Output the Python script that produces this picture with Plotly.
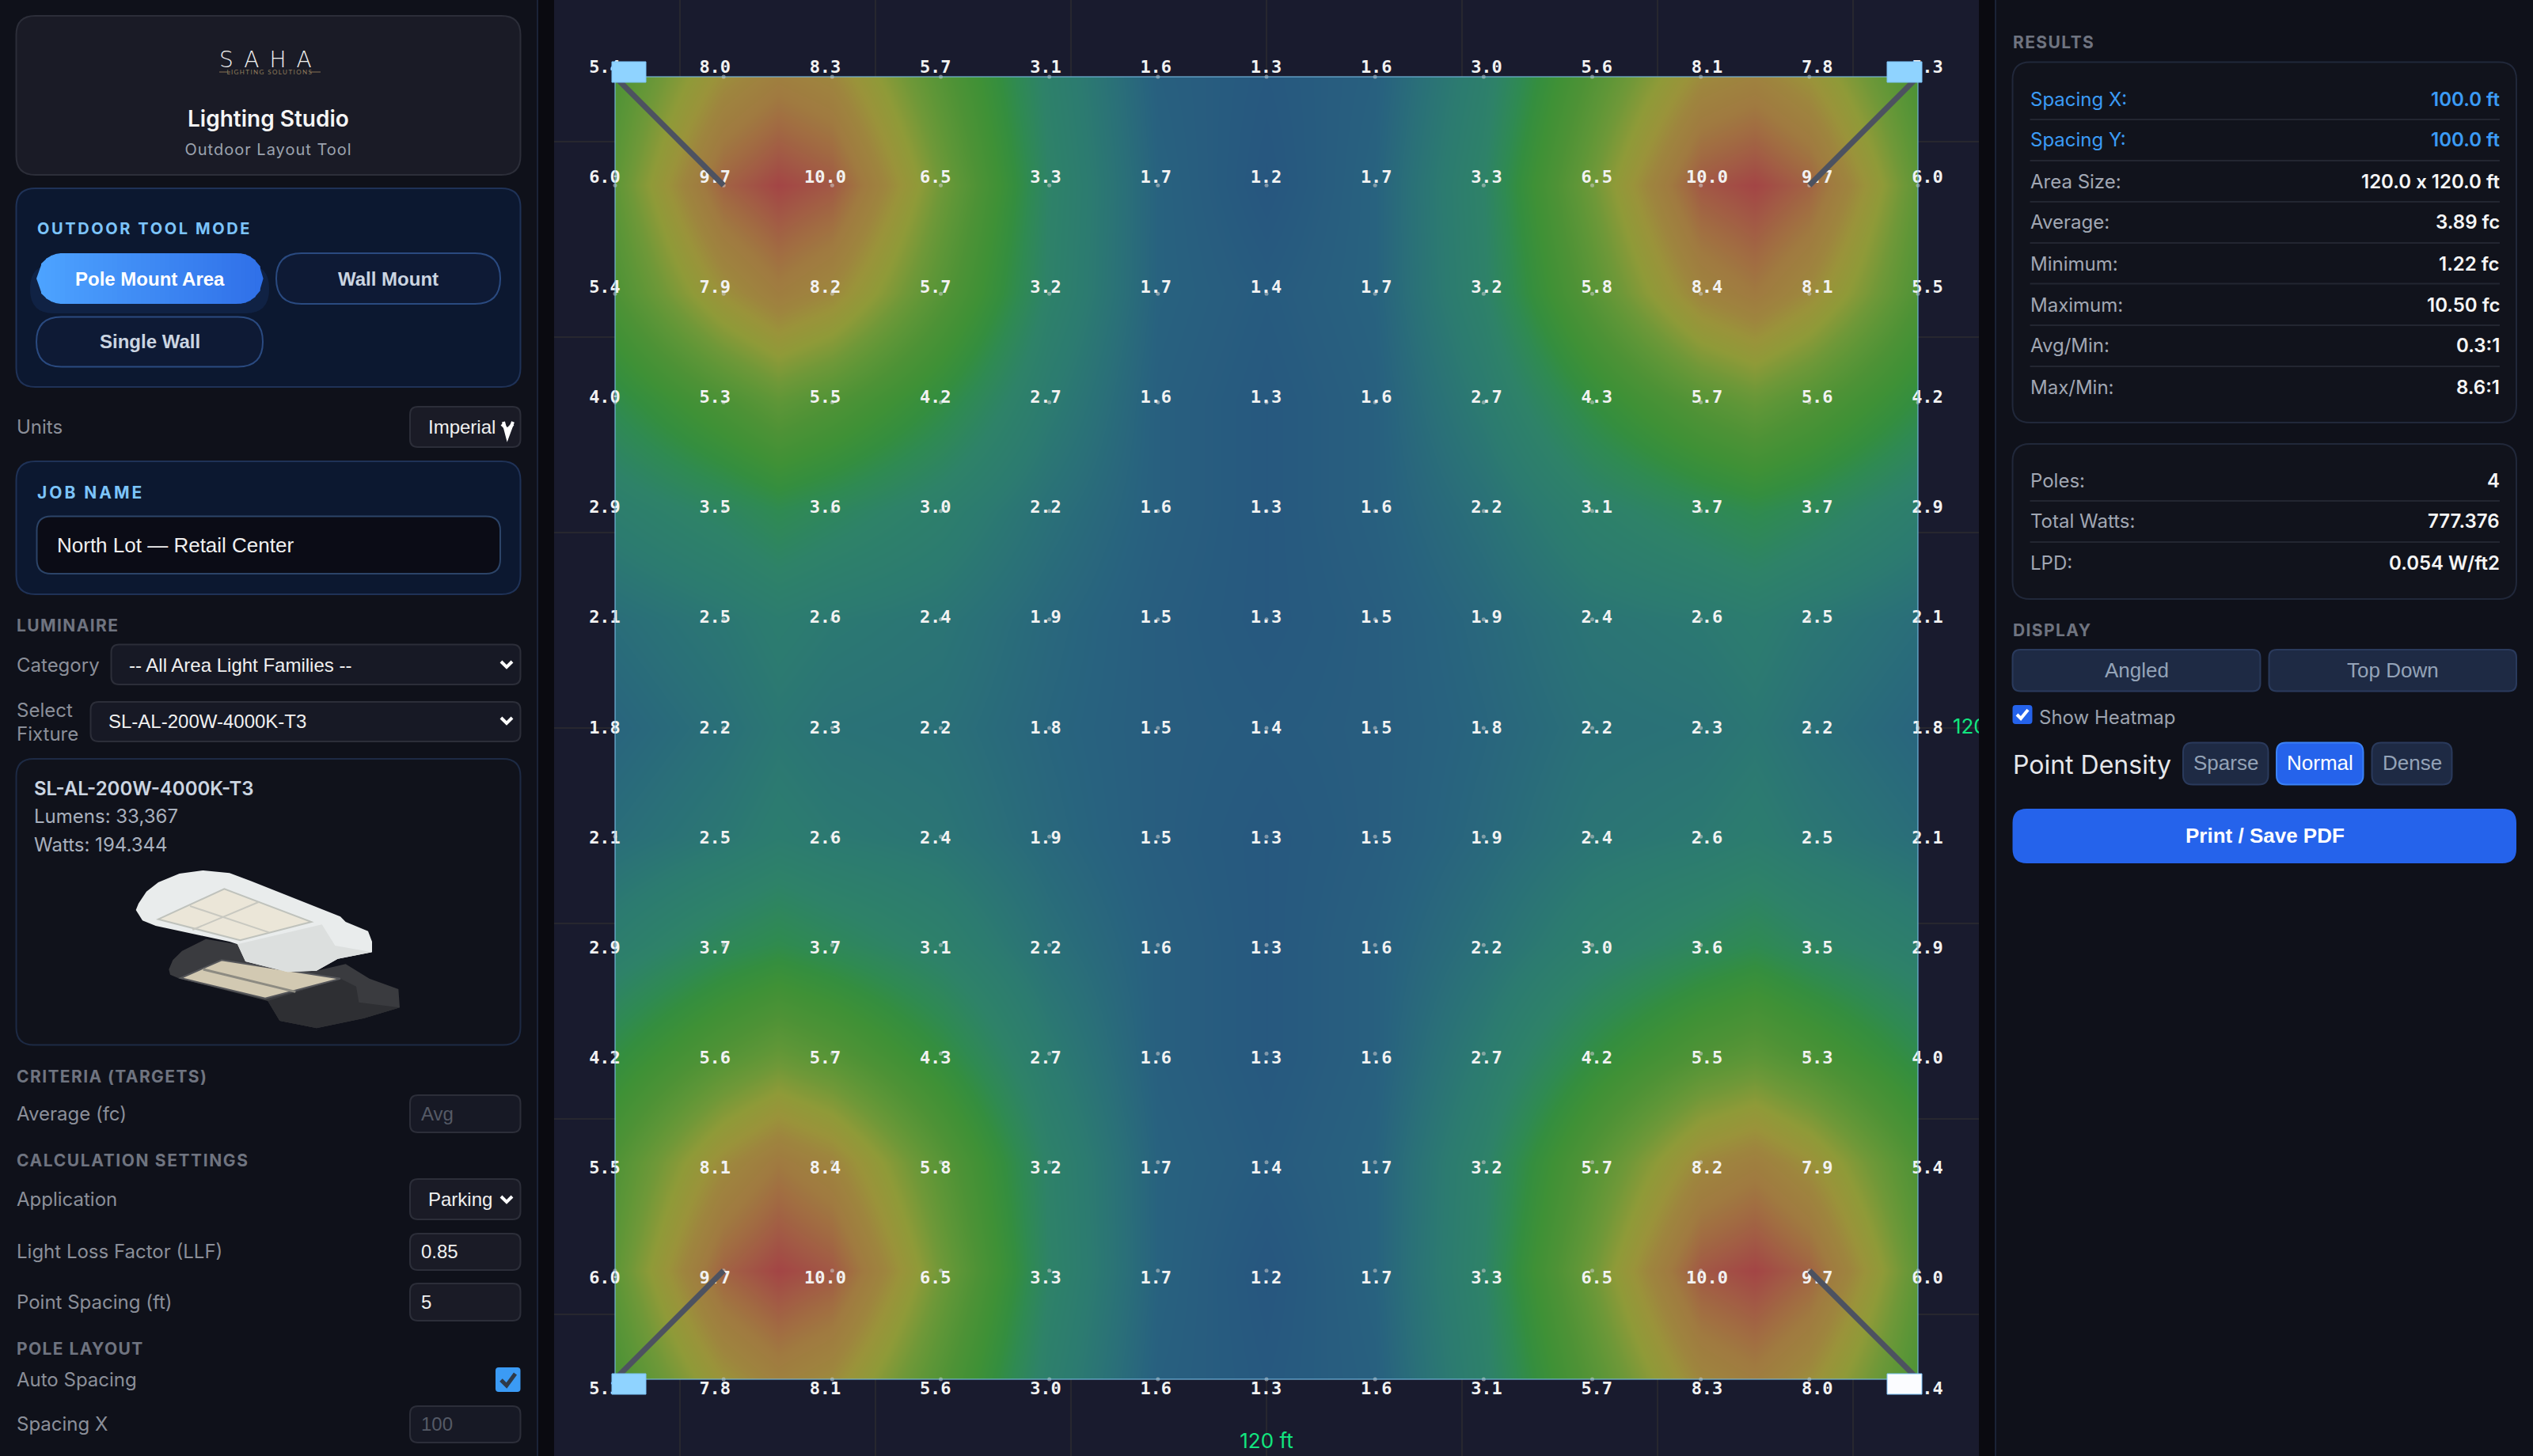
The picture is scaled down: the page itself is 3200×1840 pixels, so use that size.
import json
import plotly.graph_objects as go

W, H = 3200, 1840

# ------------------------------------------------------------------ data
x_ft = [0, 10, 20, 30, 40, 50, 60, 70, 80, 90, 100, 110, 120]
y_ft = [0, 10, 20, 30, 40, 50, 60, 70, 80, 90, 100, 110, 120]
row_00 = [5.4, 8.0, 8.3, 5.7, 3.1, 1.6, 1.3, 1.6, 3.0, 5.6, 8.1, 7.8, 5.3]
row_10 = [6.0, 9.7, 10.0, 6.5, 3.3, 1.7, 1.2, 1.7, 3.3, 6.5, 10.0, 9.7, 6.0]
row_20 = [5.4, 7.9, 8.2, 5.7, 3.2, 1.7, 1.4, 1.7, 3.2, 5.8, 8.4, 8.1, 5.5]
row_30 = [4.0, 5.3, 5.5, 4.2, 2.7, 1.6, 1.3, 1.6, 2.7, 4.3, 5.7, 5.6, 4.2]
row_40 = [2.9, 3.5, 3.6, 3.0, 2.2, 1.6, 1.3, 1.6, 2.2, 3.1, 3.7, 3.7, 2.9]
row_50 = [2.1, 2.5, 2.6, 2.4, 1.9, 1.5, 1.3, 1.5, 1.9, 2.4, 2.6, 2.5, 2.1]
row_60 = [1.8, 2.2, 2.3, 2.2, 1.8, 1.5, 1.4, 1.5, 1.8, 2.2, 2.3, 2.2, 1.8]
row_70 = [2.1, 2.5, 2.6, 2.4, 1.9, 1.5, 1.3, 1.5, 1.9, 2.4, 2.6, 2.5, 2.1]
row_80 = [2.9, 3.7, 3.7, 3.1, 2.2, 1.6, 1.3, 1.6, 2.2, 3.0, 3.6, 3.5, 2.9]
row_90 = [4.2, 5.6, 5.7, 4.3, 2.7, 1.6, 1.3, 1.6, 2.7, 4.2, 5.5, 5.3, 4.0]
row_100 = [5.5, 8.1, 8.4, 5.8, 3.2, 1.7, 1.4, 1.7, 3.2, 5.7, 8.2, 7.9, 5.4]
row_110 = [6.0, 9.7, 10.0, 6.5, 3.3, 1.7, 1.2, 1.7, 3.3, 6.5, 10.0, 9.7, 6.0]
row_120 = [5.3, 7.8, 8.1, 5.6, 3.0, 1.6, 1.3, 1.6, 3.1, 5.7, 8.3, 8.0, 5.4]
z_rows = [row_00, row_10, row_20, row_30, row_40, row_50, row_60,
          row_70, row_80, row_90, row_100, row_110, row_120]
# columns between the printed points, estimated from the colour of the heat layer
col_15 = [8.7, 10.5, 8.8, 6.0, 3.9, 2.8, 2.5, 2.8, 4.0, 6.2, 9.0, 10.5, 8.6]
col_105 = [8.5, 10.5, 9.0, 6.2, 4.0, 2.8, 2.5, 2.8, 3.9, 5.9, 8.7, 10.5, 8.8]
pole_x = [0, 120, 0, 120]
pole_y = [0, 0, 120, 120]
arm_x = [10, 110, 10, 110]
arm_y = [10, 10, 110, 110]
result_labels = ["Spacing X:", "Spacing Y:", "Area Size:", "Average:", "Minimum:",
                 "Maximum:", "Avg/Min:", "Max/Min:"]
result_values = ["100.0 ft", "100.0 ft", "120.0 x 120.0 ft", "3.89 fc", "1.22 fc",
                 "10.50 fc", "0.3:1", "8.6:1"]
summary_labels = ["Poles:", "Total Watts:", "LPD:"]
summary_values = ["4", "777.376", "0.054 W/ft2"]

colorscale_stops = [(1.2, "#27567f"), (1.7, "#28627f"), (2.2, "#2a7078"), (2.7, "#2c7b70"),
                    (3.3, "#2e8268"), (3.9, "#2f8a52"), (4.3, "#348e3f"), (4.8, "#3f9136"),
                    (5.4, "#4d9236"), (6.0, "#5e9637"), (6.5, "#6f9838"), (7.2, "#8f9a38"),
                    (7.8, "#9a933a"), (8.3, "#9e853e"), (9.0, "#a07a40"), (9.5, "#a16a42"),
                    (10.0, "#a25845"), (10.5, "#a34545")]

# ------------------------------------------------------------------ helpers
FONT = "Inter"
SYS = "Liberation Sans"
shapes, ann = [], []


def fx(p):
    return p / W


def fy(p):
    return 1 - p / H


def rr_path(x0, y0, x1, y1, r):
    r = min(r, (x1 - x0) / 2, (y1 - y0) / 2)
    pts = [("M", x0 + r, y0), ("L", x1 - r, y0), ("Q", x1, y0, x1, y0 + r), ("L", x1, y1 - r),
           ("Q", x1, y1, x1 - r, y1), ("L", x0 + r, y1), ("Q", x0, y1, x0, y1 - r),
           ("L", x0, y0 + r), ("Q", x0, y0, x0 + r, y0)]
    s = ""
    for p in pts:
        vals = p[1:]
        coords = []
        for i in range(0, len(vals), 2):
            coords.append(f"{fx(vals[i]):.5f},{fy(vals[i + 1]):.5f}")
        s += p[0] + " ".join(coords) + " "
    return s + "Z"


def box(x0, y0, x1, y1, r=0, fill="#000", line=None, lw=2, layer="below"):
    shapes.append(dict(type="path", xref="paper", yref="paper", path=rr_path(x0, y0, x1, y1, r),
                       fillcolor=fill, line=dict(color=line or "rgba(0,0,0,0)", width=lw if line else 0),
                       layer=layer))


def poly(pts, fill, line=None, lw=1, closed=True):
    s = "M" + " L".join(f"{fx(x):.5f},{fy(y):.5f}" for x, y in pts) + (" Z" if closed else "")
    shapes.append(dict(type="path", xref="paper", yref="paper", path=s,
                       fillcolor=fill if closed else "rgba(0,0,0,0)",
                       line=dict(color=line or "rgba(0,0,0,0)", width=lw if line else 0), layer="below"))


def hline(x0, x1, y, color, lw=2):
    poly([(x0, y), (x1, y)], None, color, lw, closed=False)


def text(x, y, s, size=24, color="#fff", anchor="left", weight=400, family=FONT):
    ann.append(dict(xref="paper", yref="paper", x=fx(x), y=fy(y), text=s, showarrow=False,
                    xanchor=anchor, yanchor="middle", align=anchor, borderpad=0, borderwidth=0,
                    font=dict(family=family, size=size, color=color, weight=weight)))


def chevron(cx, cy, color="#fff"):
    poly([(cx - 7, cy - 4), (cx, cy + 3), (cx + 7, cy - 4)], None, color, 4, closed=False)


def gradient_pill(x0, y0, x1, y1, c0, c1, step=6):
    """A pill with a left-to-right colour ramp, built from thin vertical slices."""
    r = (y1 - y0) / 2
    cy = (y0 + y1) / 2
    a = [int(c0[i:i + 2], 16) for i in (1, 3, 5)]
    b = [int(c1[i:i + 2], 16) for i in (1, 3, 5)]

    def half(x):
        if x < x0 + r:
            d = x0 + r - x
        elif x > x1 - r:
            d = x - (x1 - r)
        else:
            return r
        return max(r * r - d * d, 0) ** 0.5

    x = x0
    while x < x1:
        xe = min(x + step, x1)
        t = (x - x0) / (x1 - x0)
        col = "#" + "".join(f"{round(p + (q - p) * t):02x}" for p, q in zip(a, b))
        h0, h1 = half(x), half(xe)
        poly([(x, cy - h0), (xe + 0.6, cy - h1), (xe + 0.6, cy + h1), (x, cy + h0)], col)
        x = xe


PANEL = "#0f111a"
GAP = "#0a0a10"
CARD = "#1a1b26"
CARD_LINE = "#2c2e39"
NAVY = "#0c1830"
NAVY_LINE = "#1f3257"
LABEL = "#8b8f99"
HEAD = "#6f7480"

# ------------------------------------------------------------------ page frame
box(0, 0, 680, H, fill=PANEL)
box(678, 0, 680, H, fill="#1b2338")
box(700, 0, 2500, H, fill="#191b2e")
box(2520, 0, W, H, fill=PANEL)
box(2520, 0, 2522, H, fill="#1b2338")

# ------------------------------------------------------------------ left panel
box(20.5, 20, 657.5, 221, 24, CARD, CARD_LINE)
text(342, 75, "SAHA", 28, "#f2f2f2", "center", 200, "DejaVu Sans")
hline(277, 291, 91, "#8a7454", 1)
hline(391, 405, 91, "#8a7454", 1)
text(341, 91, "LIGHTING SOLUTIONS", 8, "#8f7d5c", "center", 400, "Lato")
text(339, 150, "Lighting Studio", 28, "#f5f5f5", "center", 600)
text(339, 189, "Outdoor Layout Tool", 20, "#9ca3af", "center")

box(20.5, 238, 657.5, 489, 24, NAVY, NAVY_LINE)
text(46.5, 289, "OUTDOOR TOOL MODE", 20, "#7cc4fa", "left", 700)
box(38, 334, 340, 396, 30, "rgba(59,130,246,0.10)")
gradient_pill(46, 320, 332, 384, "#4da3ff", "#2f6fe8")
text(189, 352, "Pole Mount Area", 24, "#ffffff", "center", 700, SYS)
box(349, 320, 632, 384, 32, "#0e1a35", "#2a4a80")
text(490, 352, "Wall Mount", 24, "#cbd5e1", "center", 700, SYS)
box(46, 400.5, 332, 463.5, 32, "#0e1a35", "#2a4a80")
text(189, 432, "Single Wall", 24, "#cbd5e1", "center", 700, SYS)

text(20.5, 539, "Units", 24, LABEL)
box(518, 514, 657.5, 565, 10, CARD, CARD_LINE)
text(540.5, 539, "Imperial", 24, "#f0f0f0", "left", 400, SYS)
chevron(641, 540)
poly([(636, 533), (641, 552), (648, 533)], None, "#ffffff", 4, closed=False)

box(20.5, 583, 657.5, 751, 24, NAVY, NAVY_LINE)
text(46.5, 622, "JOB NAME", 21, "#7cc4fa", "left", 700)
box(46.5, 652.5, 632, 725, 18, "#0b0c16", "#2c4468")
text(72, 689, "North Lot — Retail Center", 26, "#f0f0f0", "left", 400, SYS)

text(20.5, 790, "LUMINAIRE", 21, HEAD, "left", 700)
text(20.5, 840, "Category", 24, LABEL)
box(140.5, 814.5, 657.5, 865, 10, "#171925", CARD_LINE)
text(163, 840, "-- All Area Light Families --", 24, "#f0f0f0", "left", 400, SYS)
chevron(640, 840)
text(20.5, 897.5, "Select", 24, LABEL)
text(20.5, 927, "Fixture", 24, LABEL)
box(114.5, 887, 657.5, 937, 10, "#171925", CARD_LINE)
text(136.5, 911, "SL-AL-200W-4000K-T3", 24, "#f0f0f0", "left", 400, SYS)
chevron(640, 911)

box(20.5, 959, 657.5, 1320.5, 22, "#10121b", "#1d2a44")
text(42.5, 997, "SL-AL-200W-4000K-T3", 24, "#cbd5e1", "left", 600)
text(42.5, 1031, "Lumens: 33,367", 24, "#a8b0bd")
text(42.5, 1067, "Watts: 194.344", 24, "#a8b0bd")


def fz(pts):
    return [(160 + a / 3, 1090 + b / 3) for a, b in pts]


# fixture picture, drawn as flat polygons
poly(fz([(160, 405), (175, 370), (210, 335), (300, 290), (420, 310), (450, 375), (720, 410), (830, 385),
         (920, 440), (1030, 480), (1035, 550), (900, 590), (720, 628), (580, 600), (535, 525), (200, 440),
         (165, 425)]), "#3a3b3f")
poly(fz([(535, 525), (810, 440), (870, 470), (880, 530), (1035, 550), (900, 590), (720, 628), (580, 600)]),
     "#2e2f33")
poly(fz([(205, 438), (360, 370), (810, 440), (525, 515)]), "#d2c9b2", "#55565a", 2)
poly(fz([(290, 405), (640, 490)]), None, "#8d8b82", 3, closed=False)
poly(fz([(35, 180), (45, 155), (75, 110), (120, 75), (200, 42), (290, 30), (390, 40), (470, 70), (810, 205),
         (830, 225), (915, 260), (930, 300), (930, 340), (800, 365), (720, 410), (610, 415), (450, 375),
         (420, 310), (390, 300), (110, 240), (60, 220)]), "#e9ecec")
poly(fz([(420, 310), (740, 235), (790, 315), (930, 340), (800, 365), (720, 410), (610, 415), (450, 375)]),
     "#dcdfde")
poly(fz([(120, 215), (370, 100), (700, 225), (430, 295)]), "#ebe6d8", "#bfc2bc", 2)
poly(fz([(240, 165), (540, 265)]), None, "#c8c8c0", 2, closed=False)
poly(fz([(250, 255), (500, 150)]), None, "#c8c8c0", 2, closed=False)

text(20.5, 1360, "CRITERIA (TARGETS)", 21, HEAD, "left", 700)
text(20.5, 1407, "Average (fc)", 24, LABEL)
box(518, 1384, 657.5, 1431, 10, "#171925", CARD_LINE)
text(532, 1407, "Avg", 24, "#555a66", "left", 400, SYS)
text(20.5, 1466, "CALCULATION SETTINGS", 21, HEAD, "left", 700)
text(20.5, 1515.5, "Application", 24, LABEL)
box(518, 1490, 657.5, 1541, 10, CARD, CARD_LINE)
text(540.5, 1515.5, "Parking", 24, "#f0f0f0", "left", 400, SYS)
chevron(640, 1516)
text(20.5, 1581, "Light Loss Factor (LLF)", 24, LABEL)
box(518, 1559, 657.5, 1605, 10, CARD, CARD_LINE)
text(532, 1581, "0.85", 24, "#f0f0f0", "left", 400, SYS)
text(20.5, 1645, "Point Spacing (ft)", 24, LABEL)
box(518, 1622, 657.5, 1669, 10, CARD, CARD_LINE)
text(532, 1645, "5", 24, "#f0f0f0", "left", 400, SYS)
text(20.5, 1704, "POLE LAYOUT", 21, HEAD, "left", 700)
text(20.5, 1743.5, "Auto Spacing", 24, LABEL)
box(626, 1728, 657.5, 1759, 4, "#3b9bf5")
poly([(633, 1744), (640, 1751), (651, 1736)], None, "#2f3a48", 5, closed=False)
text(20.5, 1799, "Spacing X", 24, LABEL)
box(518, 1777, 657.5, 1823, 10, "#171925", CARD_LINE)
text(532, 1799, "100", 24, "#555a66", "left", 400, SYS)

# ------------------------------------------------------------------ right panel
BLUE_TXT = "#3b9bf5"
text(2542.5, 53.5, "RESULTS", 21, HEAD, "left", 700)
box(2542.5, 78.5, 3179, 534, 22, "#11131c", "#21283a")
rows_y = [125, 177, 229, 281, 333, 385, 436.5, 489]
seps_y = [151, 203, 255, 307, 358.5, 411, 463]
for yy in seps_y:
    hline(2564.5, 3158, yy, "#232631", 2)
for i, (lab, val, yy) in enumerate(zip(result_labels, result_values, rows_y)):
    text(2564.5, yy, lab, 24, BLUE_TXT if i < 2 else "#a1a7b3")
    text(3158, yy, val, 24, BLUE_TXT if i < 2 else "#f5f5f5", "right", 600)
box(2542.5, 561, 3179, 757, 22, "#11131c", "#21283a")
for yy in [633, 685]:
    hline(2564.5, 3158, yy, "#232631", 2)
for lab, val, yy in zip(summary_labels, summary_values, [607, 658.5, 711]):
    text(2564.5, yy, lab, 24, "#a1a7b3")
    text(3158, yy, val, 24, "#f5f5f5", "right", 600)
text(2542.5, 796, "DISPLAY", 21, HEAD, "left", 700)
BTN = "#1e2a44"
BTN_LINE = "#2a3a5c"
box(2542.5, 821, 2855.5, 873.5, 10, BTN, BTN_LINE)
text(2699, 847, "Angled", 26, "#94a3b8", "center", 400, SYS)
box(2866.5, 821, 3179, 873.5, 10, BTN, BTN_LINE)
text(3023, 847, "Top Down", 26, "#94a3b8", "center", 400, SYS)
box(2542.5, 891, 2567.5, 915, 4, "#2563eb")
poly([(2548, 903), (2553, 908), (2562, 897)], None, "#ffffff", 4, closed=False)
text(2575.5, 907, "Show Heatmap", 24, "#9ca3af")
text(2542.5, 966, "Point Density", 32, "#e5e7eb")
box(2758, 938.5, 2865.5, 991.5, 12, BTN, BTN_LINE)
text(2811.5, 964, "Sparse", 26, "#94a3b8", "center", 400, SYS)
box(2876, 938.5, 2985.5, 991.5, 12, "#2563eb", "#3b82f6")
text(2931, 964, "Normal", 26, "#ffffff", "center", 400, SYS)
box(2996.5, 938.5, 3097.5, 991.5, 12, BTN, BTN_LINE)
text(3047, 964, "Dense", 26, "#94a3b8", "center", 400, SYS)
box(2542.5, 1022, 3179, 1091, 18, "#2563eb")
text(2861, 1056, "Print / Save PDF", 26, "#ffffff", "center", 700, SYS)

# ------------------------------------------------------------------ chart
ZMIN, ZMAX = colorscale_stops[0][0], colorscale_stops[-1][0]
colorscale = [[(v - ZMIN) / (ZMAX - ZMIN), c] for v, c in colorscale_stops]
PX = 1646 / 120  # screen pixels per foot of the site plan
HX0, HY0 = 777, 97
LX0, LX1, LY0, LY1 = 764, 2435, 86, 1756

# heat layer: the printed grid plus the two estimated columns through the light pools
heat_x = x_ft[:2] + [15] + x_ft[2:11] + [105] + x_ft[11:]
heat_z = [r[:2] + [a] + r[2:11] + [b] + r[11:] for r, a, b in zip(z_rows, col_15, col_105)]

fig = go.Figure()
fig.add_trace(go.Heatmap(x=heat_x, y=y_ft, z=heat_z, zsmooth="best", colorscale=colorscale, zmin=ZMIN,
                         zmax=ZMAX, showscale=False, hoverinfo="skip", xaxis="x2", yaxis="y2"))
flat_x = [x for _ in y_ft for x in x_ft]
flat_y = [y for y in y_ft for _ in x_ft]
flat_v = [v for r in z_rows for v in r]
fig.add_trace(go.Scatter(x=flat_x, y=flat_y, mode="markers", xaxis="x2", yaxis="y2", cliponaxis=False,
                         marker=dict(size=5, color="rgba(205,205,205,0.55)"), hoverinfo="skip"))
fig.add_trace(go.Scatter(x=flat_x, y=flat_y, mode="text", xaxis="x3", yaxis="y3", cliponaxis=False,
                         text=[f"{v:.1f}" for v in flat_v], textposition="middle center",
                         textfont=dict(family="DejaVu Sans Mono", size=22, color="#f2f2f2", weight=700),
                         hoverinfo="skip"))
# dimension labels sit on the canvas axes, so the right one is cut by the canvas edge
fig.add_trace(go.Scatter(x=[x_ft[6], x_ft[-1] + 3.2], y=[y_ft[-1] + 5.9, y_ft[6]], mode="text",
                         text=["120 ft", "120 ft"], textposition=["middle center", "middle right"],
                         textfont=dict(family=FONT, size=26, color="#12e57f"), hoverinfo="skip"))

# outline of the calculated area
shapes.append(dict(type="rect", xref="x", yref="y", x0=x_ft[0], x1=x_ft[-1], y0=y_ft[0], y1=y_ft[-1],
                   line=dict(color="rgba(120,190,230,0.55)", width=2), fillcolor="rgba(0,0,0,0)", layer="above"))
# pole arms and heads, anchored to the pole positions on the canvas axes
for i, (px, py, ax, ay) in enumerate(zip(pole_x, pole_y, arm_x, arm_y)):
    shapes.append(dict(type="line", xref="x", yref="y", x0=px, y0=py, x1=ax, y1=ay,
                       line=dict(color="#4d5260", width=7), layer="above"))
    shapes.append(dict(type="rect", xref="x", yref="y", xsizemode="pixel", ysizemode="pixel",
                       xanchor=px, yanchor=py,
                       x0=-4 if px == 0 else -39, x1=39 if px == 0 else 5,
                       y0=19 if py == 0 else 7, y1=-7 if py == 0 else -19,
                       fillcolor="#fbfcff" if i == 3 else "#8fd3ff",
                       line=dict(color="#7cc4fa", width=1), layer="above"))

blank = dict(showticklabels=False, ticks="", zeroline=False, showline=False, showgrid=False, fixedrange=True)
fig.update_layout(
    width=W, height=H, margin=dict(l=0, r=0, t=0, b=0, pad=0), showlegend=False,
    paper_bgcolor=GAP, plot_bgcolor="rgba(0,0,0,0)", shapes=shapes, annotations=ann,
    xaxis=dict(**{**blank, "showgrid": True}, domain=[fx(700), fx(2500)],
               range=[(700 - HX0) / PX, (2500 - HX0) / PX], tick0=60, dtick=18, gridcolor="#27272f", gridwidth=2),
    yaxis=dict(**{**blank, "showgrid": True}, domain=[0, 1], range=[(H - HY0) / PX, (0 - HY0) / PX],
               tick0=60, dtick=18, gridcolor="#27272f", gridwidth=2),
    xaxis2=dict(**blank, domain=[fx(HX0), fx(HX0 + 1646)], range=[x_ft[0], x_ft[-1]], anchor="y2"),
    yaxis2=dict(**blank, domain=[fy(HY0 + 1646), fy(HY0)], range=[y_ft[-1], y_ft[0]], anchor="x2"),
    xaxis3=dict(**blank, domain=[fx(LX0), fx(LX1)], range=[x_ft[0], x_ft[-1]], anchor="y3"),
    yaxis3=dict(**blank, domain=[fy(LY1), fy(LY0)], range=[y_ft[-1], y_ft[0]], anchor="x3"),
)

tracking = {"SAHA": 13, "LIGHTING SOLUTIONS": 1.4, "OUTDOOR TOOL MODE": 2.6, "JOB NAME": 3, "LUMINAIRE": 1.4,
            "CRITERIA (TARGETS)": 1.4, "CALCULATION SETTINGS": 1.6, "POLE LAYOUT": 1.4, "RESULTS": 1.4,
            "DISPLAY": 1.4, "Outdoor Layout Tool": 1}
post = """
document.documentElement.style.margin='0';document.body.style.margin='0';document.body.style.overflow='hidden';
var tr=%s;
function applyTracking(){document.querySelectorAll('.annotation-text').forEach(function(t){
 var k=t.textContent; if(tr[k]){t.style.letterSpacing=tr[k]+'px';}});}
applyTracking();setTimeout(applyTracking,0);
""" % json.dumps(tracking)
fig.write_html("out.html", config={"displayModeBar": False, "staticPlot": True}, post_script=post)
